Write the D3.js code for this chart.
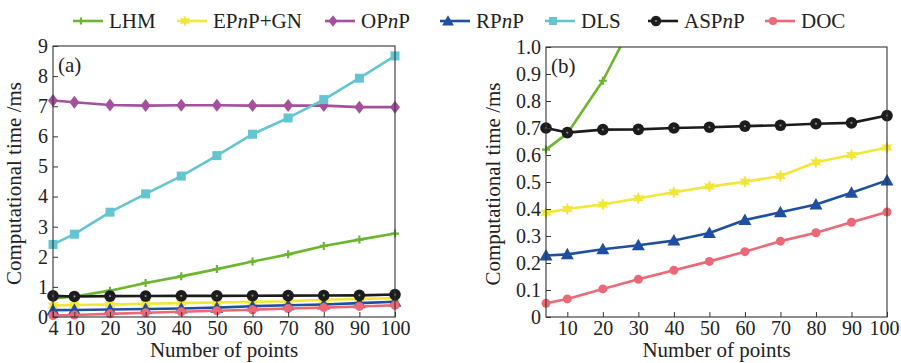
<!DOCTYPE html>
<html><head><meta charset="utf-8">
<script src="https://cdn.jsdelivr.net/npm/d3@7"></script>
<style>body{margin:0;background:#fff}svg{display:block}text{font-family:"Liberation Serif","DejaVu Serif",serif;fill:#222}</style>
</head><body><svg id="c" width="901" height="363"></svg>
<script>
const points = [4,10,20,30,40,50,60,70,80,90,100];
const LHM   = [0.62,0.68,0.875,1.13,1.35,1.59,1.84,2.08,2.36,2.57,2.77];
const EPnPGN= [0.386,0.40,0.417,0.44,0.462,0.483,0.501,0.522,0.573,0.60,0.628];
const OPnP  = [7.19,7.13,7.04,7.02,7.03,7.03,7.02,7.02,7.02,6.97,6.97];
const RPnP  = [0.228,0.232,0.251,0.266,0.283,0.311,0.359,0.388,0.417,0.46,0.506];
const DLS   = [2.41,2.75,3.48,4.09,4.68,5.36,6.07,6.61,7.22,7.93,8.67];
const ASPnP = [0.70,0.683,0.694,0.695,0.70,0.703,0.707,0.710,0.716,0.719,0.746];
const DOC   = [0.051,0.067,0.104,0.14,0.173,0.206,0.242,0.281,0.312,0.351,0.389];
const seriesNames = ["LHM","EPnP+GN","OPnP","RPnP","DLS","ASPnP","DOC"];
const xTicksA = [4,10,20,30,40,50,60,70,80,90,100];
const xTicksB = [10,20,30,40,50,60,70,80,90,100];
const yTicksA = [0,1,2,3,4,5,6,7,8,9];
const yTicksB = [0,0.1,0.2,0.3,0.4,0.5,0.6,0.7,0.8,0.9,1.0];

const series = [
  {name:"LHM", v:LHM, color:"#6cb52f", sym:"plus"},
  {name:"EPnP+GN", v:EPnPGN, color:"#f2e63a", sym:"star6"},
  {name:"OPnP", v:OPnP, color:"#a5509c", sym:"diamond"},
  {name:"RPnP", v:RPnP, color:"#1f4f9e", sym:"triangle"},
  {name:"DLS", v:DLS, color:"#62c5d0", sym:"square"},
  {name:"ASPnP", v:ASPnP, color:"#1c1c1c", sym:"dotcircle"},
  {name:"DOC", v:DOC, color:"#ec6877", sym:"circle"}
];

const svg = d3.select("#c");

function drawMarker(g, sym, color, x, y, s){
  s = s||1;
  if(sym==="plus"){
    g.append("path").attr("d",`M${x-4*s},${y}H${x+4*s}M${x},${y-4*s}V${y+4*s}`).attr("stroke",color).attr("stroke-width",2.2).attr("fill","none");
  } else if(sym==="star6"){
    const pts=[];
    for(let i=0;i<12;i++){const r=i%2?3.2*s:6.5*s;const a=Math.PI/2+i*Math.PI/6;pts.push([x+r*Math.cos(a),y-r*Math.sin(a)]);}
    g.append("path").attr("d","M"+pts.map(p=>p.join(",")).join("L")+"Z").attr("fill",color);
  } else if(sym==="diamond"){
    g.append("path").attr("d",`M${x},${y-6.5*s}L${x+5*s},${y}L${x},${y+6.5*s}L${x-5*s},${y}Z`).attr("fill",color);
  } else if(sym==="triangle"){
    g.append("path").attr("d",`M${x},${y-6.5*s}L${x+6.5*s},${y+5*s}L${x-6.5*s},${y+5*s}Z`).attr("fill",color);
  } else if(sym==="square"){
    g.append("rect").attr("x",x-4.5*s).attr("y",y-4.5*s).attr("width",9*s).attr("height",9*s).attr("fill",color);
  } else if(sym==="dotcircle"){
    g.append("circle").attr("cx",x).attr("cy",y).attr("r",5.8*s).attr("fill",color);
    g.append("circle").attr("cx",x).attr("cy",y).attr("r",1.1*s).attr("fill","#888");
  } else if(sym==="circle"){
    g.append("circle").attr("cx",x).attr("cy",y).attr("r",4.5*s).attr("fill",color);
  }
}

function panel(opts){
  const {left,right,top,bottom,yDomain,yTicks,xTicks,fmt,label,id,clip,ylabX} = opts;
  const x = d3.scaleLinear().domain([4,100]).range([left,right]);
  const y = d3.scaleLinear().domain(yDomain).range([bottom,top]);
  const g = svg.append("g");
  if(clip){
    svg.append("clipPath").attr("id",id).append("rect").attr("x",left-8).attr("y",top).attr("width",right-left+16).attr("height",bottom-top+8);
  }
  const dg = g.append("g");
  if(clip) dg.attr("clip-path",`url(#${id})`);
  const line = d3.line().x((d,i)=>x(points[i])).y(d=>y(d));
  series.forEach(s=>{
    dg.append("path").datum(s.v).attr("d",line).attr("fill","none").attr("stroke",s.color).attr("stroke-width",2.6).attr("stroke-linejoin","round");
    s.v.forEach((v,i)=>drawMarker(dg,s.sym,s.color,x(points[i]),y(v)));
  });
  g.append("rect").attr("x",left).attr("y",top).attr("width",right-left).attr("height",bottom-top).attr("fill","none").attr("stroke","#333").attr("stroke-width",1.1);
  const ax = g.append("g").attr("transform",`translate(0,${bottom})`).call(d3.axisBottom(x).tickValues(xTicks).tickSize(-5).tickPadding(4));
  const ay = g.append("g").attr("transform",`translate(${left},0)`).call(d3.axisLeft(y).tickValues(yTicks).tickSize(-5).tickPadding(5).tickFormat(fmt));
  [ax,ay].forEach(a=>{a.select(".domain").remove();a.selectAll(".tick line").attr("stroke","#333");a.selectAll("text").style("font-size","20px").style("font-family",'"Liberation Serif",serif').attr("fill","#222");});
  ax.selectAll("text").attr("dy","0.72em");
  ax.selectAll(".tick").filter(d=>d===100 && clip).select("text").attr("dx","-3");
  g.append("text").attr("x",(left+right)/2).attr("y",357).attr("text-anchor","middle").style("font-size","21px").text("Number of points");
  g.append("text").attr("transform",`translate(${ylabX},${(top+bottom)/2+2}) rotate(-90)`).attr("text-anchor","middle").style("font-size","21px").text("Computational time /ms");
  g.append("text").attr("x",left+5).attr("y",top+26).style("font-size","21px").text(label);
}

panel({left:53,right:395,top:46,bottom:317,yDomain:[0,9],yTicks:yTicksA,xTicks:xTicksA,fmt:d3.format("d"),label:"(a)",id:"ca",clip:false,ylabX:21});
panel({left:546,right:887,top:47,bottom:317,yDomain:[0,1],yTicks:yTicksB,xTicks:xTicksB,fmt:d=>d===0?"0":d3.format(".1f")(d),label:"(b)",id:"cb",clip:true,ylabX:500});

const legX = [73,177,325,440,545,648,765];
const lg = svg.append("g");
series.forEach((s,i)=>{
  const x0 = legX[i], x1 = x0+30, yy = 21;
  lg.append("line").attr("x1",x0).attr("x2",x1).attr("y1",yy).attr("y2",yy).attr("stroke",s.color).attr("stroke-width",2.6);
  drawMarker(lg,s.sym,s.color,x0+8,yy,0.9);
  const t = lg.append("text").attr("x",x1+6).attr("y",yy+7).style("font-size","21px");
  if(s.name.includes("PnP")){
    const idx = s.name.indexOf("PnP");
    t.append("tspan").text(s.name.slice(0,idx+1));
    t.append("tspan").style("font-style","italic").text("n");
    t.append("tspan").text(s.name.slice(idx+2));
  } else t.text(s.name);
});
</script></body></html>
